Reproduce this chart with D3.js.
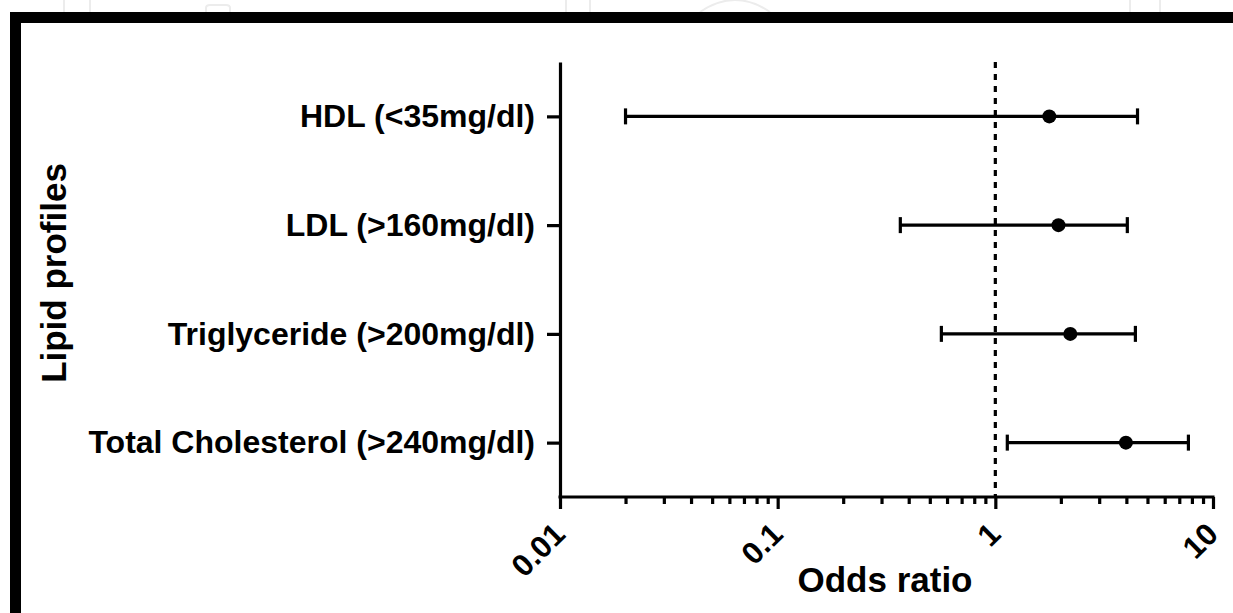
<!DOCTYPE html>
<html>
<head>
  <meta charset="utf-8">
  <title>Odds ratio forest plot</title>
  <script src="https://cdn.jsdelivr.net/npm/d3@7/dist/d3.min.js"></script>
  <style>
    body { margin: 0; background: #fff; }
    text { font-family: "Liberation Sans", Arial, sans-serif; font-weight: bold; fill: #000; }
  </style>
</head>
<body>
  <svg width="1233" height="613" id="mainsvg"></svg>
  <script>
    // data
    const categories = ['HDL (<35mg/dl)', 'LDL (>160mg/dl)', 'Triglyceride (>200mg/dl)', 'Total Cholesterol (>240mg/dl)'];
    const oddsRatio = [1.77, 1.95, 2.21, 3.98];
    const lowerCI = [0.02, 0.366, 0.565, 1.135];
    const upperCI = [4.5, 4.04, 4.40, 7.71];
    const xTicks = [0.01, 0.1, 1, 10];
    const xTickLabels = ['0.01', '0.1', '1', '10'];

    const svg = d3.select('#mainsvg');
    const width = +svg.attr('width');
    const height = +svg.attr('height');

    // faint watermark bits above the frame
    const wm = svg.append('g').attr('fill', 'none').attr('stroke', '#ececec').attr('stroke-width', 2);
    wm.append('path').attr('d', 'M64,0V12M90,0V12');
    wm.append('path').attr('d', 'M206,12V8Q206,5 210,5H226Q230,5 230,8V12');
    wm.append('path').attr('d', 'M566,0V12M590,0V12');
    wm.append('path').attr('d', 'M700,12Q735,-12 770,12');
    wm.append('path').attr('d', 'M1130,0V12M1160,0V12');

    // thick black frame (top and left)
    svg.append('rect').attr('x', 10).attr('y', 12).attr('width', width - 10).attr('height', 11).attr('fill', '#000');
    svg.append('rect').attr('x', 10).attr('y', 12).attr('width', 11).attr('height', height - 12).attr('fill', '#000');

    const xScale = d3.scaleLog().domain([0.01, 10]).range([560, 1213]);
    const yScale = d3.scalePoint().domain(categories).range([62, 497]).padding(0.5);
    const axisY = 497;
    const sw = 3.2;

    // y axis
    const yAxis = d3.axisLeft(yScale).tickSize(13).tickSizeOuter(0).tickPadding(12);
    const yAxisGroup = svg.append('g').attr('transform', `translate(${xScale.range()[0]},0)`).call(yAxis);
    yAxisGroup.selectAll('path, line').attr('stroke', '#000').attr('stroke-width', sw);
    yAxisGroup.selectAll('text').attr('font-size', 32).attr('fill', '#000')
      .attr('font-family', '"Liberation Sans", Arial, sans-serif').attr('font-weight', 'bold');

    // x axis: major ticks
    const xAxis = d3.axisBottom(xScale).tickValues(xTicks).tickSize(12).tickSizeOuter(0).tickFormat('');
    const xAxisGroup = svg.append('g').attr('transform', `translate(0,${axisY})`).call(xAxis);
    xAxisGroup.selectAll('path, line').attr('stroke', '#000').attr('stroke-width', sw);
    xAxisGroup.select('.domain').attr('d', `M${xScale.range()[0] - 1.5},0H${xScale.range()[1] + 1.5}`);

    // x axis: minor ticks
    const minor = [];
    for (let d = 0.01; d < 10; d *= 10) {
      for (let k = 2; k <= 9; k++) minor.push(+(d * k).toPrecision(3));
    }
    const xMinor = d3.axisBottom(xScale).tickValues(minor).tickSize(7).tickFormat('');
    const xMinorGroup = svg.append('g').attr('transform', `translate(0,${axisY})`).call(xMinor);
    xMinorGroup.select('.domain').remove();
    xMinorGroup.selectAll('line').attr('stroke', '#000').attr('stroke-width', sw);

    // rotated tick labels
    svg.append('g').selectAll('text').data(xTicks).join('text')
      .attr('transform', d => `translate(${xScale(d) + 7},${axisY + 39}) rotate(-45)`)
      .attr('text-anchor', 'end')
      .attr('font-size', 31)
      .text((d, i) => xTickLabels[i]);

    // reference line at OR = 1
    svg.append('line')
      .attr('x1', xScale(1)).attr('x2', xScale(1))
      .attr('y1', yScale.range()[0]).attr('y2', axisY)
      .attr('stroke', '#000').attr('stroke-width', sw).attr('stroke-dasharray', '6,6');

    // error bars + points
    const rows = categories.map((c, i) => ({ c, or: oddsRatio[i], lo: lowerCI[i], hi: upperCI[i] }));
    const bars = svg.append('g').selectAll('g').data(rows).join('g')
      .attr('transform', d => `translate(0,${yScale(d.c)})`);
    bars.append('line')
      .attr('x1', d => xScale(d.lo)).attr('x2', d => xScale(d.hi))
      .attr('stroke', '#000').attr('stroke-width', sw);
    bars.append('line')
      .attr('x1', d => xScale(d.lo)).attr('x2', d => xScale(d.lo))
      .attr('y1', -8).attr('y2', 8)
      .attr('stroke', '#000').attr('stroke-width', sw);
    bars.append('line')
      .attr('x1', d => xScale(d.hi)).attr('x2', d => xScale(d.hi))
      .attr('y1', -8).attr('y2', 8)
      .attr('stroke', '#000').attr('stroke-width', sw);
    bars.append('circle')
      .attr('cx', d => xScale(d.or)).attr('r', 7).attr('fill', '#000');

    // axis titles
    svg.append('text')
      .attr('x', 885).attr('y', 592)
      .attr('text-anchor', 'middle').attr('font-size', 35)
      .text('Odds ratio');
    svg.append('text')
      .attr('transform', 'translate(66,273) rotate(-90)')
      .attr('text-anchor', 'middle').attr('font-size', 35)
      .text('Lipid profiles');
  </script>
</body>
</html>
